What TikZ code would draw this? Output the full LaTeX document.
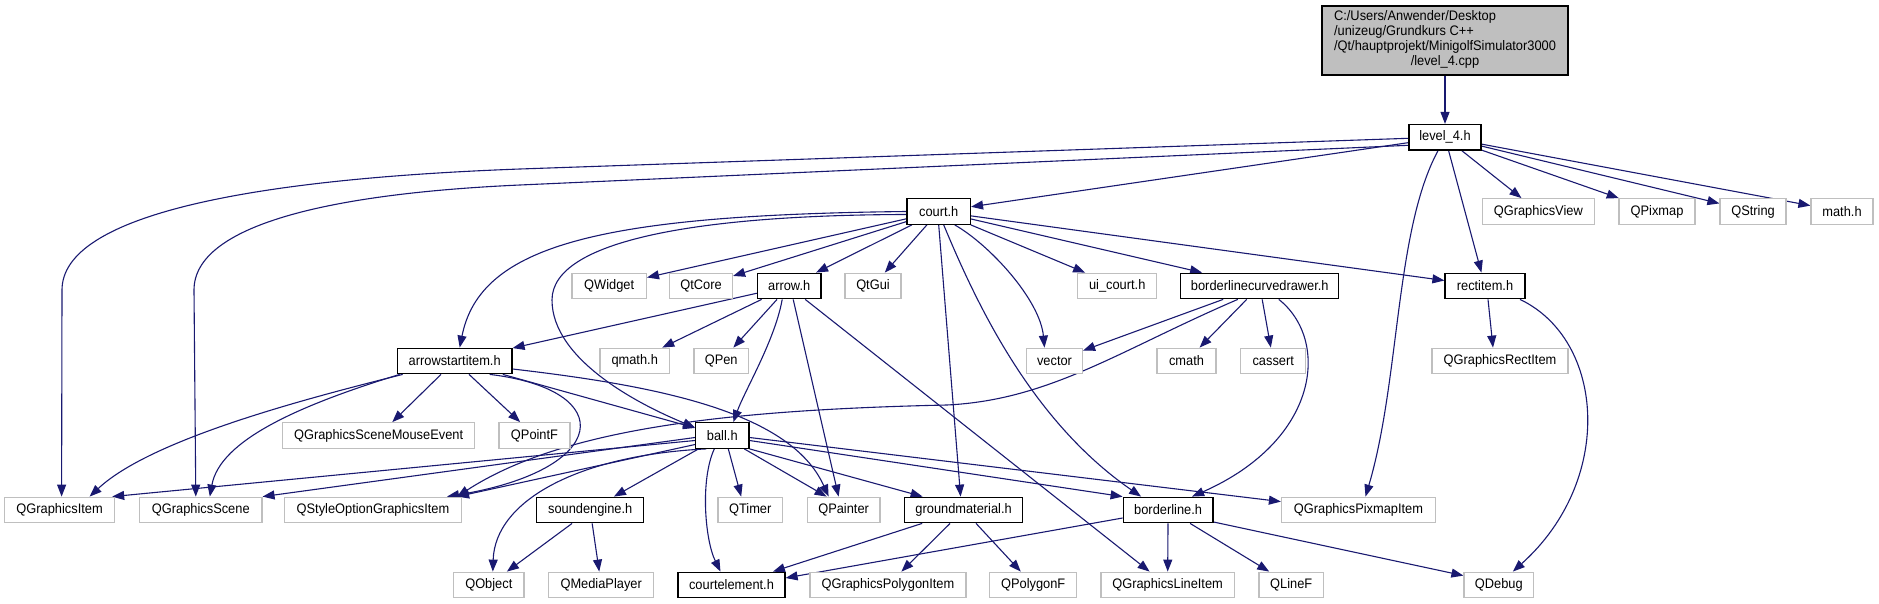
\documentclass[tikz,border=0pt]{standalone}
\usepackage{fontspec}
\setmainfont{Liberation Sans}[FakeStretch=0.93]
\usetikzlibrary{arrows.meta,backgrounds}
\definecolor{edgec}{HTML}{191970}
\definecolor{greyb}{HTML}{BFBFBF}
\begin{document}
\begin{tikzpicture}[x=1pt,y=-1pt,
  every node/.style={font=\fontsize{13.8}{15}\selectfont, inner sep=0pt, minimum height=25.6pt, anchor=center},
  doc/.style={draw=black, line width=1.2pt, fill=white},
  ext/.style={draw=greyb, line width=1.2pt, fill=white},
  edge/.style={draw=edgec, line width=1.1pt, -{Triangle[length=12pt,width=9pt]}}]
\useasboundingbox (0,0) rectangle (1879,604);
% nodes
\node[doc, fill=greyb, minimum width=246pt, minimum height=69pt] (root) at (1445,40.5)
  {\begin{tabular}{@{}l@{}}C:/Users/Anwender/Desktop\\/unizeug/Grundkurs C++\\/Qt/hauptprojekt/MinigolfSimulator3000\\\multicolumn{1}{@{}c@{}}{/level\_4.cpp}\end{tabular}};
\node[doc, minimum width=72pt] (level4) at (1445,137.3) {level\_4.h};
\node[doc, minimum width=63.5pt] (court) at (938.7,211.5) {court.h};
\node[ext, minimum width=112pt] (QGraphicsView) at (1538.3,211.5) {QGraphicsView};
\node[ext, minimum width=76pt] (QPixmap) at (1657,211.5) {QPixmap};
\node[ext, minimum width=66pt] (QString) at (1753,211.5) {QString};
\node[ext, minimum width=62pt] (mathh) at (1842,211.5) {math.h};
\node[ext, minimum width=74.4pt] (QWidget) at (609.2,286) {QWidget};
\node[ext, minimum width=63pt] (QtCore) at (701,286) {QtCore};
\node[doc, minimum width=63.7pt] (arrowh) at (789.2,286) {arrow.h};
\node[ext, minimum width=56pt] (QtGui) at (873,286) {QtGui};
\node[ext, minimum width=79pt] (uicourt) at (1117.2,286) {ui\_court.h};
\node[doc, minimum width=158pt] (bcd) at (1259.8,286) {borderlinecurvedrawer.h};
\node[doc, minimum width=80pt] (rectitem) at (1485,286) {rectitem.h};
\node[doc, minimum width=114.6pt] (arrowstartitem) at (454.7,361) {arrowstartitem.h};
\node[ext, minimum width=69.3pt] (qmath) at (634.7,361) {qmath.h};
\node[ext, minimum width=54.5pt] (QPen) at (721.2,361) {QPen};
\node[ext, minimum width=56pt] (vector) at (1054.5,361) {vector};
\node[ext, minimum width=59pt] (cmath) at (1186.5,361) {cmath};
\node[ext, minimum width=65.2pt] (cassert) at (1273.2,361) {cassert};
\node[ext, minimum width=136pt] (QGraphicsRectItem) at (1500,361) {QGraphicsRectItem};
\node[ext, minimum width=192pt] (QGraphicsSceneMouseEvent) at (378.6,435.5) {QGraphicsSceneMouseEvent};
\node[ext, minimum width=71pt] (QPointF) at (534.5,435.5) {QPointF};
\node[doc, minimum width=53.3pt] (ball) at (722.3,435.5) {ball.h};
\node[ext, minimum width=110pt] (QGraphicsItem) at (59.6,510) {QGraphicsItem};
\node[ext, minimum width=122.3pt] (QGraphicsScene) at (200.8,510) {QGraphicsScene};
\node[ext, minimum width=177pt] (QStyleOptionGraphicsItem) at (373,510) {QStyleOptionGraphicsItem};
\node[doc, minimum width=107pt] (soundengine) at (590.2,510) {soundengine.h};
\node[ext, minimum width=64.5pt] (QTimer) at (750.2,510) {QTimer};
\node[ext, minimum width=72.7pt] (QPainter) at (843.6,510) {QPainter};
\node[doc, minimum width=118.3pt] (groundmaterial) at (963.6,510) {groundmaterial.h};
\node[doc, minimum width=89.8pt] (borderline) at (1168.1,510) {borderline.h};
\node[ext, minimum width=154pt] (QGraphicsPixmapItem) at (1358.5,510) {QGraphicsPixmapItem};
\node[ext, minimum width=70.4pt] (QObject) at (488.8,585) {QObject};
\node[ext, minimum width=105pt] (QMediaPlayer) at (601.2,585) {QMediaPlayer};
\node[doc, minimum width=107pt] (courtelement) at (731.5,585) {courtelement.h};
\node[ext, minimum width=156pt] (QGraphicsPolygonItem) at (887.9,585) {QGraphicsPolygonItem};
\node[ext, minimum width=87pt] (QPolygonF) at (1033.2,585) {QPolygonF};
\node[ext, minimum width=133.4pt] (QGraphicsLineItem) at (1167.6,585) {QGraphicsLineItem};
\node[ext, minimum width=64.4pt] (QLineF) at (1291.2,585) {QLineF};
\node[ext, minimum width=69.6pt] (QDebug) at (1498.8,585) {QDebug};
% edges
\begin{scope}[on background layer]
\draw[edge] (root) -- (level4);
\draw[edge] ([yshift=-1pt]level4.west) -- (520,169) .. controls (250,179) and (62,215) .. (62,290) -- ([xshift=2pt]QGraphicsItem.north);
\draw[edge] ([yshift=-8pt]level4.west) -- (520,185) .. controls (330,193.5) and (194,225) .. (194,290) -- ([xshift=-5pt]QGraphicsScene.north);
\draw[edge] (level4) -- (court);
\draw[edge] (level4) -- (QGraphicsView);
\draw[edge] (level4) -- (QPixmap);
\draw[edge] (level4) -- (QString);
\draw[edge] (level4) -- (mathh);
\draw[edge] (level4) -- (rectitem);
\draw[edge] ([xshift=-7pt]level4.south) .. controls (1395,230) and (1400,380) .. ([xshift=7pt]QGraphicsPixmapItem.north);
% court.h
\draw[edge] (court.west) .. controls (600,215) and (480,245) .. ([xshift=5pt]arrowstartitem.north);
\draw[edge] ([yshift=-3pt]court.west) .. controls (700,215) and (552,240) .. (552,300) .. controls (552,360) and (640,405) .. ([yshift=8pt]ball.west);
\draw[edge] (court) -- (QWidget);
\draw[edge] (court) -- (QtCore);
\draw[edge] (court) -- (arrowh);
\draw[edge] (court) -- (QtGui);
\draw[edge] (court) -- (uicourt);
\draw[edge] (court) -- (bcd);
\draw[edge] (court) -- (rectitem);
\draw[edge] ([xshift=16pt]court.south) .. controls (990,245) and (1040,300) .. ([xshift=-10pt]vector.north);
\draw[edge] (court.south) -- ([xshift=-3pt]groundmaterial.north);
\draw[edge] ([xshift=5pt]court.south) .. controls (975,300) and (1030,420) .. ([xshift=-27pt]borderline.north);
% arrow.h
\draw[edge] (arrowh) -- (arrowstartitem);
\draw[edge] (arrowh) -- (qmath);
\draw[edge] (arrowh) -- (QPen);
\draw[edge] ([xshift=-7pt]arrowh.south) .. controls (775,340) and (745,390) .. ([xshift=11pt]ball.north);
\draw[edge] ([xshift=4pt]arrowh.south) -- ([xshift=-5pt]QPainter.north);
\draw[edge] ([xshift=16pt]arrowh.south) -- ([xshift=-18pt]QGraphicsLineItem.north);
% borderlinecurvedrawer.h
\draw[edge] (bcd) -- (vector);
\draw[edge] (bcd) -- (cmath);
\draw[edge] (bcd) -- (cassert);
\draw[edge] ([xshift=19pt]bcd.south) .. controls (1330,340) and (1320,440) .. ([xshift=24pt]borderline.north);
\draw[edge] ([xshift=-22pt]bcd.south) .. controls (1120,350) and (1050,400) .. (947,405) .. controls (720,410) and (560,430) .. ([xshift=-5pt]QStyleOptionGraphicsItem.north east);
% rectitem.h
\draw[edge] ([xshift=3pt]rectitem.south) -- ([xshift=-7pt]QGraphicsRectItem.north);
\draw[edge] ([xshift=35pt]rectitem.south) .. controls (1605,340) and (1615,480) .. ([xshift=14pt]QDebug.north);
% arrowstartitem.h
\draw[edge] ([xshift=-52pt]arrowstartitem.south) .. controls (300,400) and (150,440) .. ([xshift=30pt]QGraphicsItem.north);
\draw[edge] ([xshift=-55pt]arrowstartitem.south) .. controls (300,405) and (220,440) .. ([xshift=9pt]QGraphicsScene.north);
\draw[edge] (arrowstartitem) -- (QGraphicsSceneMouseEvent);
\draw[edge] (arrowstartitem) -- (QPointF);
\draw[edge] (arrowstartitem) -- (ball);
\draw[edge] ([yshift=-8pt]arrowstartitem.east) .. controls (650,385) and (790,410) .. ([xshift=-15pt]QPainter.north);
\draw[edge] ([xshift=35pt]arrowstartitem.south) .. controls (620,390) and (610,470) .. ([xshift=74pt]QStyleOptionGraphicsItem.north);
% ball.h
\draw[edge] ([yshift=-5pt]ball.west) -- ([xshift=-3pt]QGraphicsItem.north east);
\draw[edge] ([yshift=-2pt]ball.west) -- (QGraphicsScene.north east);
\draw[edge] ([yshift=-9pt]ball.west) -- ([xshift=-5pt]QStyleOptionGraphicsItem.north east);
\draw[edge] (ball) -- (soundengine);
\draw[edge] ([xshift=-16pt]ball.south) .. controls (580,455) and (495,500) .. ([xshift=4pt]QObject.north);
\draw[edge] ([xshift=-8pt]ball.south) .. controls (700,480) and (705,540) .. ([xshift=-11pt]courtelement.north);
\draw[edge] ([xshift=6pt]ball.south) -- ([xshift=-9pt]QTimer.north);
\draw[edge] ([xshift=22pt]ball.south) -- ([xshift=-17pt]QPainter.north);
\draw[edge] (ball.south east) -- ([xshift=-41pt]groundmaterial.north);
\draw[edge] ([yshift=-5pt]ball.east) -- (borderline.north west);
\draw[edge] ([yshift=-2pt]ball.east) -- ([yshift=-5pt]QGraphicsPixmapItem.north west);
% soundengine.h
\draw[edge] (soundengine) -- (QObject);
\draw[edge] (soundengine) -- (QMediaPlayer);
% groundmaterial.h
\draw[edge] (groundmaterial) -- (courtelement);
\draw[edge] (groundmaterial) -- (QGraphicsPolygonItem);
\draw[edge] (groundmaterial) -- (QPolygonF);
% borderline.h
\draw[edge] ([yshift=-8pt]borderline.west) -- ([yshift=7pt]courtelement.east);
\draw[edge] (borderline) -- (QGraphicsLineItem);
\draw[edge] (borderline) -- (QLineF);
\draw[edge] ([yshift=-12pt]borderline.east) -- ([yshift=-4pt]QDebug.north west);
\end{scope}
\end{tikzpicture}
\end{document}
